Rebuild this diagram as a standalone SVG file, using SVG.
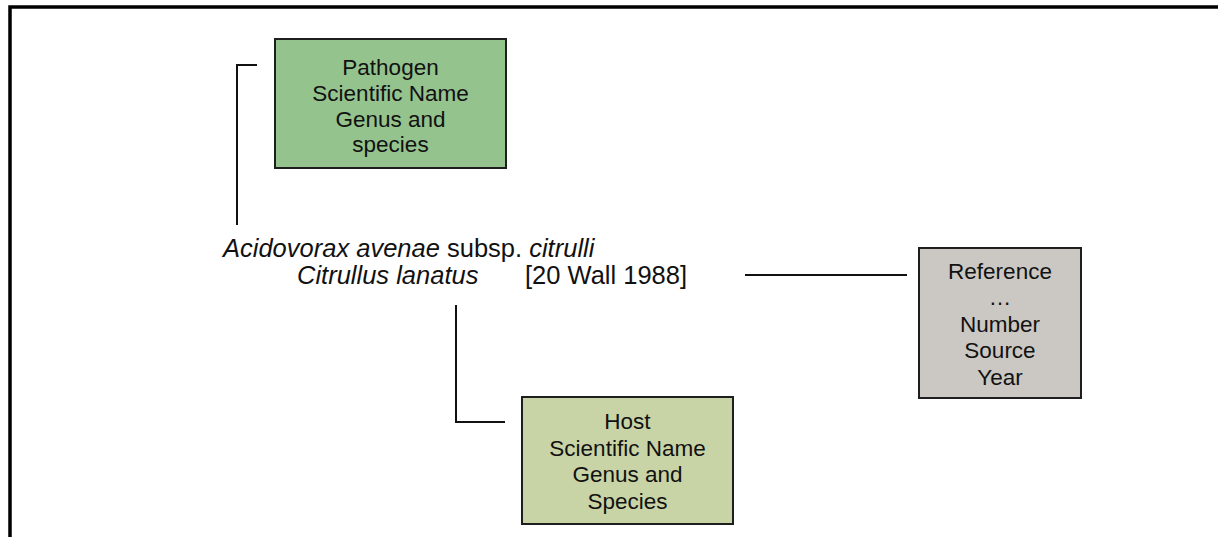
<svg xmlns="http://www.w3.org/2000/svg" width="1218" height="537" viewBox="0 0 1218 537">
<style>
.box{stroke:#1e1e1e;stroke-width:2}
.bt{font-family:"Liberation Sans",Arial,sans-serif;font-size:22.5px;fill:#111;text-anchor:middle}
.mt{font-family:"Liberation Sans",Arial,sans-serif;font-size:25.5px;fill:#111}
.con{fill:none;stroke:#111;stroke-width:2}
</style>
<rect width="1218" height="537" fill="#fff"/>
<path d="M10,540 V7 H1222" fill="none" stroke="#000" stroke-width="3.5"/>
<g id="pathogen">
<rect class="box" x="275" y="39" width="231" height="129" fill="#95c38e"/>
<text class="bt" x="390.5" y="75">Pathogen</text>
<text class="bt" x="390.5" y="101">Scientific Name</text>
<text class="bt" x="390.5" y="126.5">Genus and</text>
<text class="bt" x="390.5" y="151.5">species</text>
</g>
<g id="host">
<rect class="box" x="522" y="397" width="211" height="127" fill="#c9d4a6"/>
<text class="bt" x="627.5" y="428.5">Host</text>
<text class="bt" x="627.5" y="455.5">Scientific Name</text>
<text class="bt" x="627.5" y="482">Genus and</text>
<text class="bt" x="627.5" y="508.5">Species</text>
</g>
<g id="reference">
<rect class="box" x="919" y="248" width="162" height="150" fill="#cbc8c3"/>
<text class="bt" x="1000" y="279">Reference</text>
<text class="bt" x="1000" y="305">…</text>
<text class="bt" x="1000" y="332">Number</text>
<text class="bt" x="1000" y="358">Source</text>
<text class="bt" x="1000" y="384.5">Year</text>
</g>
<g id="citation">
<text class="mt" x="223" y="256.5"><tspan font-style="italic">Acidovorax avenae</tspan> subsp. <tspan font-style="italic">citrulli</tspan></text>
<text class="mt" x="297" y="284" font-style="italic">Citrullus lanatus</text>
<text class="mt" x="525" y="284">[20 Wall 1988]</text>
</g>
<g id="connectors">
<path class="con" d="M257,65 H237 V225"/>
<path class="con" d="M745,275 H907"/>
<path class="con" d="M456,305 V422 H505"/>
</g>
</svg>
